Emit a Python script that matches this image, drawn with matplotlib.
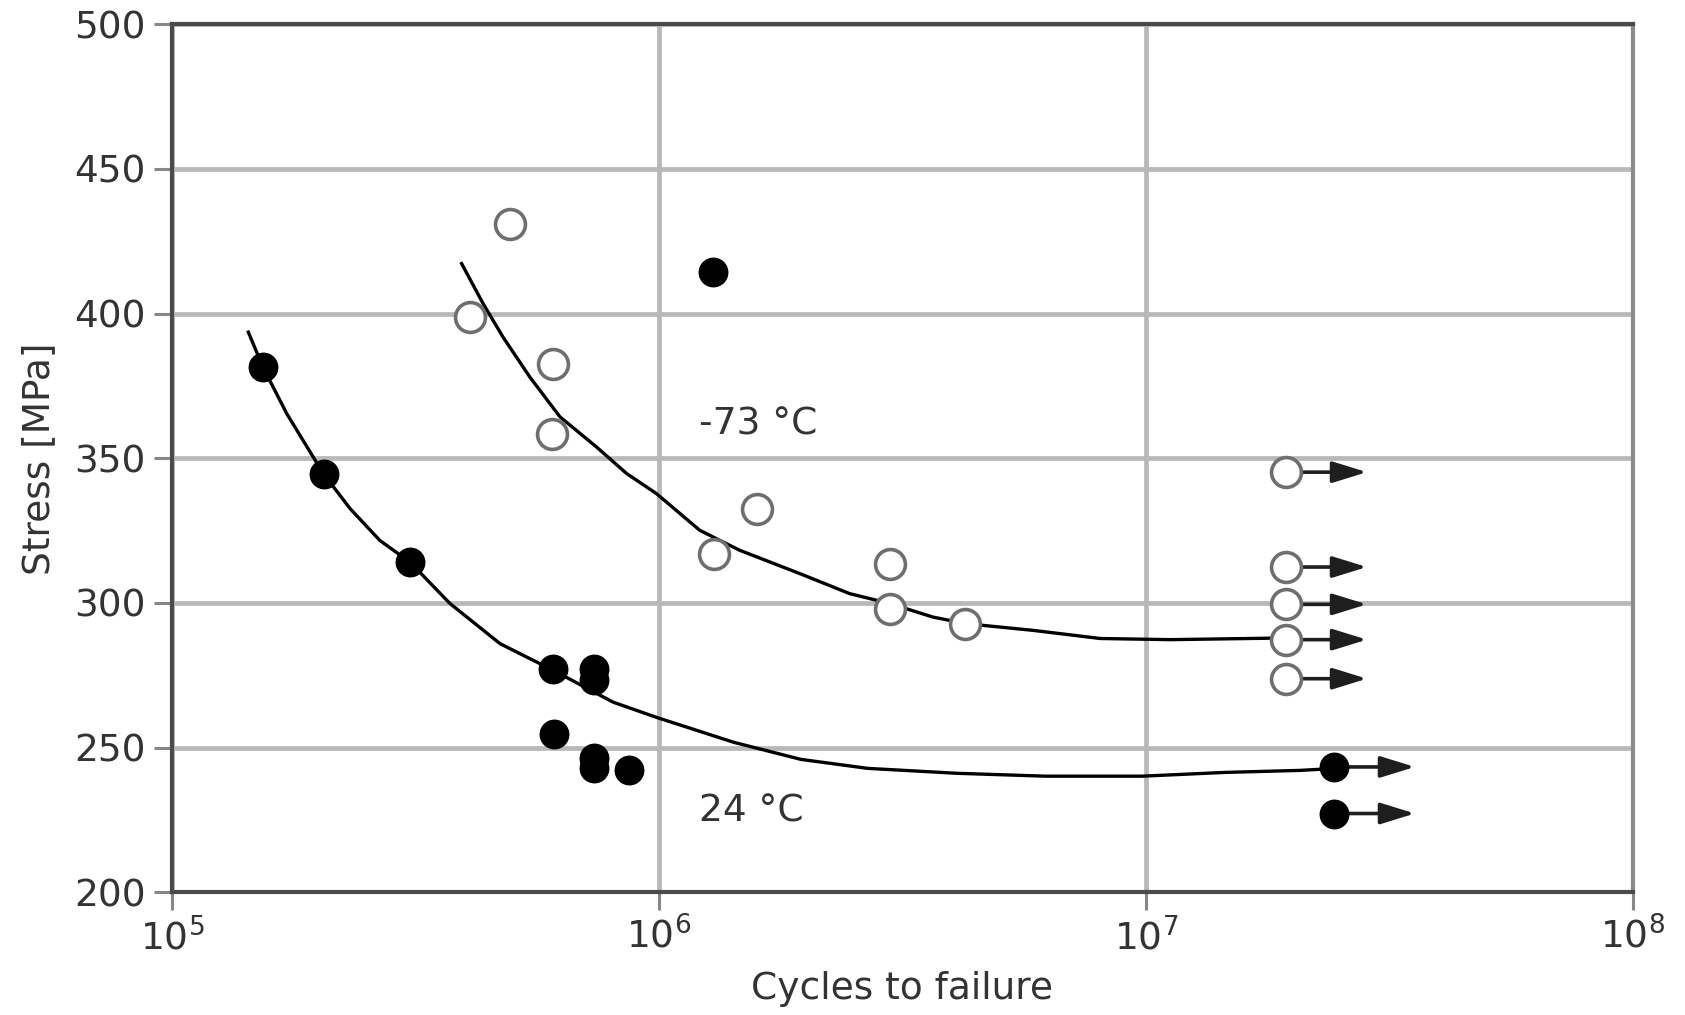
import numpy as np
import matplotlib
matplotlib.use("Agg")
import matplotlib.pyplot as plt

plt.rcParams['font.family'] = ['DejaVu Sans']
plt.rcParams['mathtext.default'] = 'regular'

# ---------------- data ----------------
# -73 °C : failures (open circles)
cold_N = [4.94e5, 4.09e5, 6.07e5, 6.03e5, 1.30e6, 1.587e6, 2.98e6, 2.98e6, 4.25e6]
cold_S = [431.1, 398.8, 382.7, 358.5, 317.0, 332.6, 313.6, 298.0, 292.8]
# -73 °C : run-outs (open circles with arrows)
cold_runout_N = [1.945e7, 1.945e7, 1.945e7, 1.945e7, 1.945e7]
cold_runout_S = [345.2, 312.4, 299.5, 287.3, 273.8]

# 24 °C : failures (filled circles)
warm_N = [1.54e5, 2.05e5, 3.08e5, 6.07e5, 7.35e5, 7.35e5, 6.08e5, 7.35e5, 7.35e5, 8.69e5, 1.29e6]
warm_S = [381.4, 344.7, 314.0, 277.0, 277.0, 273.5, 254.8, 246.5, 243.0, 242.1, 414.4]
# 24 °C : run-outs
warm_runout_N = [2.44e7, 2.44e7]
warm_runout_S = [243.3, 227.2]

# fitted curves (log10 N, stress)
cold_curve_logN = [5.595, 5.639, 5.680, 5.735, 5.797, 5.872, 5.934, 5.995, 6.084, 6.166,
                   6.290, 6.392, 6.474, 6.563, 6.632, 6.769, 6.906, 7.05, 7.255, 7.275]
cold_curve_S = [417.3, 403.5, 391.9, 378.1, 364.3, 353.9, 344.7, 337.8, 325.1, 318.2,
                310.1, 303.2, 299.8, 295.1, 292.8, 290.5, 287.7, 287.3, 287.8, 287.6]
warm_curve_logN = [5.157, 5.187, 5.236, 5.311, 5.366, 5.427, 5.489, 5.571, 5.674, 5.783,
                   5.906, 5.994, 6.154, 6.292, 6.429, 6.612, 6.795, 6.992, 7.162, 7.316, 7.37]
warm_curve_S = [393.6, 381.5, 365.4, 344.7, 332.6, 321.6, 314.1, 299.8, 285.9, 276.7,
                265.7, 260.5, 251.8, 245.9, 242.8, 241.1, 240.1, 240.1, 241.4, 242.1, 242.6]

y_ticks = [200, 250, 300, 350, 400, 450, 500]
x_ticks = [1e5, 1e6, 1e7, 1e8]
x_tick_labels = ['$10^{5}$', '$10^{6}$', '$10^{7}$', '$10^{8}$']
label_cold = '-73 °C'
label_warm = '24 °C'
label_cold_pos = (1.21e6, 361.7)
label_warm_pos = (1.21e6, 228.0)
arrow_decades = 0.165

# ---------------- figure ----------------
fig = plt.figure(figsize=(16.85, 10.15), dpi=100)
ax = fig.add_axes([0.102, 0.121, 0.867, 0.855])
ax.set_xscale('log')
ax.set_xlim(1e5, 1e8)
ax.set_ylim(200, 500)

ax.set_yticks(y_ticks)
ax.set_xticks(x_ticks)
ax.set_xticklabels(x_tick_labels)
ax.xaxis.set_minor_locator(matplotlib.ticker.NullLocator())
ax.tick_params(axis='both', direction='out', length=13, width=2.2, color='#888888',
               labelsize=27, labelcolor='#333333')
ax.tick_params(axis='x', pad=5)
ax.tick_params(axis='y', pad=6)

ax.grid(True, which='major', color='#b8b8b8', linewidth=3.4, zorder=0)
ax.set_axisbelow(True)
for side in ['left', 'top', 'bottom']:
    ax.spines[side].set_color('#4a4a4a')
    ax.spines[side].set_linewidth(3.0)
ax.spines['right'].set_color('#8a8a8a')
ax.spines['right'].set_linewidth(3.0)

# curves
ax.plot(10 ** np.array(cold_curve_logN), cold_curve_S, color='black', lw=2.4,
        solid_joinstyle='round', zorder=3)
ax.plot(10 ** np.array(warm_curve_logN), warm_curve_S, color='black', lw=2.4,
        solid_joinstyle='round', zorder=3)

# run-out arrows
def runout_arrows(Ns, Ss):
    for n, s in zip(Ns, Ss):
        ax.annotate('', xy=(n * 10 ** arrow_decades, s), xytext=(n, s),
                    arrowprops=dict(arrowstyle='-|>,head_length=2.1,head_width=0.65',
                                    mutation_scale=10, color='#1e1e1e', lw=2.6,
                                    shrinkA=10, shrinkB=0),
                    zorder=3)

runout_arrows(cold_runout_N, cold_runout_S)
runout_arrows(warm_runout_N, warm_runout_S)

# markers
ax.plot(cold_N + cold_runout_N, cold_S + cold_runout_S, linestyle='none', marker='o',
        ms=21.5, mfc='white', mec='#6e6e6e', mew=2.6, zorder=5)
ax.plot(warm_N + warm_runout_N, warm_S + warm_runout_S, linestyle='none', marker='o',
        ms=20.5, mfc='black', mec='black', mew=1.0, zorder=5)

# labels
ax.text(label_cold_pos[0], label_cold_pos[1], label_cold, fontsize=27, color='#333333',
        ha='left', va='center', zorder=6)
ax.text(label_warm_pos[0], label_warm_pos[1], label_warm, fontsize=27, color='#333333',
        ha='left', va='center', zorder=6)

ax.set_xlabel('Cycles to failure', fontsize=27, color='#333333', labelpad=10)
ax.set_ylabel('Stress [MPa]', fontsize=27, color='#333333', labelpad=12)

fig.savefig('out.png', dpi=100)
